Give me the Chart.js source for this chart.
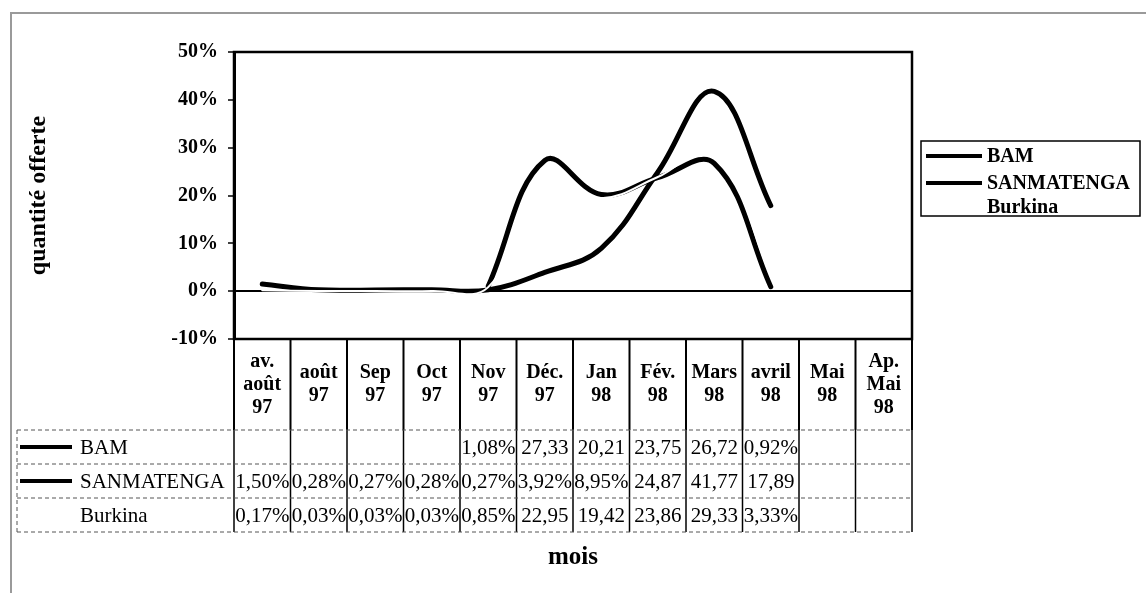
<!DOCTYPE html>
<html>
<head>
<meta charset="utf-8">
<script src="https://cdn.jsdelivr.net/npm/chart.js@4.4.0/dist/chart.umd.min.js"></script>
<style>
    html, body { margin: 0; padding: 0; background: #fff; }
    #wrap { width: 1146px; height: 593px; }
</style>
</head>
<body>
<div id="wrap"><canvas id="grafico-offre" width="1146" height="593"></canvas></div>
<script>
// Données (en %)
const mois = [['av.', 'août', '97'], ['août', '97'], ['Sep', '97'], ['Oct', '97'], ['Nov', '97'], ['Déc.', '97'],
              ['Jan', '98'], ['Fév.', '98'], ['Mars', '98'], ['avril', '98'], ['Mai', '98'], ['Ap.', 'Mai', '98']];
const bam = [null, null, null, null, 1.08, 27.33, 20.21, 23.75, 26.72, 0.92, null, null];
const sanmatenga = [1.50, 0.28, 0.27, 0.28, 0.27, 3.92, 8.95, 24.87, 41.77, 17.89, null, null];
const burkina = [0.17, 0.03, 0.03, 0.03, 0.85, 22.95, 19.42, 23.86, 29.33, 3.33, null, null];
const yMin = -10, yMax = 50, yPas = 10;

const serif = '"Liberation Serif", "Times New Roman", serif';

// les colonnes sont trop étroites : le % n'apparaît que pour les petites valeurs
function texteCellule(v) {
    if (v === null) return '';
    return v.toFixed(2).replace('.', ',') + (v < 10 ? '%' : '');
}

const tableau = {
    id: 'tableau',
    afterDraw(chart) {
        const ctx = chart.ctx;
        const a = chart.chartArea;
        const xs = chart.scales.x;
        const n = mois.length;
        const colW = (a.right - a.left) / n;
        const hautEntete = 91;
        const hautLigne = 34;
        const yTab = a.bottom + hautEntete;
        const yFin = yTab + 3 * hautLigne;
        const xTab = 17;

        ctx.save();

        // cadre général (gris)
        ctx.strokeStyle = '#9a9a9a';
        ctx.lineWidth = 2;
        ctx.beginPath();
        ctx.moveTo(11, 593);
        ctx.lineTo(11, 13);
        ctx.lineTo(1146, 13);
        ctx.stroke();

        // bord de la zone de tracé
        ctx.strokeStyle = '#000';
        ctx.lineWidth = 2.5;
        ctx.strokeRect(a.left, a.top, a.right - a.left, a.bottom - a.top);

        // lignes verticales du tableau
        for (let i = 0; i <= n; i++) {
            const xb = a.left + i * colW;
            ctx.lineWidth = 2;
            ctx.beginPath();
            ctx.moveTo(xb, a.bottom);
            ctx.lineTo(xb, yTab);
            ctx.stroke();
            ctx.lineWidth = 1.5;
            ctx.beginPath();
            ctx.moveTo(xb, yTab);
            ctx.lineTo(xb, yFin);
            ctx.stroke();
        }

        // lignes horizontales pointillées
        ctx.setLineDash([4, 3]);
        ctx.strokeStyle = '#555';
        ctx.lineWidth = 1;
        for (let r = 0; r <= 3; r++) {
            const yl = yTab + r * hautLigne;
            ctx.beginPath();
            ctx.moveTo(xTab, yl);
            ctx.lineTo(a.right, yl);
            ctx.stroke();
        }
        ctx.beginPath();
        ctx.moveTo(xTab, yTab);
        ctx.lineTo(xTab, yFin);
        ctx.stroke();
        ctx.setLineDash([]);

        // en-têtes des mois
        ctx.fillStyle = '#000';
        ctx.textAlign = 'center';
        ctx.textBaseline = 'middle';
        ctx.font = 'bold 20px ' + serif;
        const yMil = a.bottom + hautEntete / 2;
        mois.forEach((lignes, i) => {
            const cx = xs.getPixelForValue(i);
            lignes.forEach((t, k) => {
                ctx.fillText(t, cx, yMil + (k - (lignes.length - 1) / 2) * 23);
            });
        });

        // lignes de données
        chart.data.datasets.forEach((ds, r) => {
            const cy = yTab + r * hautLigne + hautLigne / 2;
            if (ds.borderColor !== '#fff') {
                ctx.strokeStyle = ds.borderColor;
                ctx.lineWidth = ds.borderWidth - 1;
                ctx.beginPath();
                ctx.moveTo(20, cy);
                ctx.lineTo(72, cy);
                ctx.stroke();
            }
            ctx.textAlign = 'left';
            ctx.font = '21px ' + serif;
            ctx.fillText(ds.label, 80, cy + 1);

            ctx.textAlign = 'center';
            ds.data.forEach((v, i) => {
                const cx = xs.getPixelForValue(i);
                ctx.save();
                ctx.beginPath();
                ctx.rect(cx - colW / 2 + 1, cy - hautLigne / 2, colW - 2, hautLigne);
                ctx.clip();
                ctx.fillText(texteCellule(v), cx, cy + 1);
                ctx.restore();
            });
        });

        // titre de l'axe des x
        ctx.font = 'bold 25px ' + serif;
        ctx.textAlign = 'center';
        ctx.fillText('mois', (a.left + a.right) / 2, 558);

        // légende
        ctx.strokeStyle = '#000';
        ctx.lineWidth = 1.5;
        ctx.strokeRect(921, 141, 219, 75);
        const yLeg = [156, 183, 207];
        chart.data.datasets.forEach((ds, r) => {
            if (ds.borderColor !== '#fff') {
                ctx.strokeStyle = ds.borderColor;
                ctx.lineWidth = ds.borderWidth - 1;
                ctx.beginPath();
                ctx.moveTo(926, yLeg[r]);
                ctx.lineTo(982, yLeg[r]);
                ctx.stroke();
            }
            ctx.textAlign = 'left';
            ctx.font = 'bold 20px ' + serif;
            ctx.fillText(ds.label, 987, yLeg[r] + 1);
        });

        ctx.restore();
    }
};

new Chart(document.getElementById('grafico-offre'), {
    type: 'line',
    data: {
        labels: mois,
        datasets: [
            { label: 'BAM', data: bam, borderColor: '#000', borderWidth: 5, order: 2 },
            { label: 'SANMATENGA', data: sanmatenga, borderColor: '#000', borderWidth: 5, order: 1 },
            { label: 'Burkina', data: burkina, borderColor: '#fff', borderWidth: 2, order: 0 }
        ]
    },
    options: {
        responsive: false,
        devicePixelRatio: 1,
        animation: false,
        layout: { padding: { left: 11, top: 52, right: 234, bottom: 254 } },
        elements: {
            point: { radius: 0 },
            line: { tension: 0.4, fill: false, borderCapStyle: 'round' }
        },
        plugins: {
            legend: { display: false },
            tooltip: { enabled: false }
        },
        scales: {
            x: { display: false, offset: true },
            y: {
                min: yMin,
                max: yMax,
                afterFit: function (s) { s.width = 223; },
                border: { display: true, color: '#000', width: 3 },
                grid: {
                    drawOnChartArea: true,
                    color: c => (c.tick && c.tick.value === 0) ? '#000' : 'rgba(0,0,0,0)',
                    lineWidth: 2,
                    tickColor: '#000',
                    tickWidth: 1.5,
                    tickLength: 6
                },
                ticks: {
                    stepSize: yPas,
                    padding: 10,
                    color: '#000',
                    font: { family: serif, size: 20, weight: 'bold' },
                    callback: v => v + '%'
                },
                title: {
                    display: true,
                    text: 'quantité offerte',
                    color: '#000',
                    font: { family: serif, size: 24, weight: 'bold' },
                    padding: { top: 13, bottom: 0 }
                }
            }
        }
    },
    plugins: [tableau]
});
</script>
</body>
</html>
